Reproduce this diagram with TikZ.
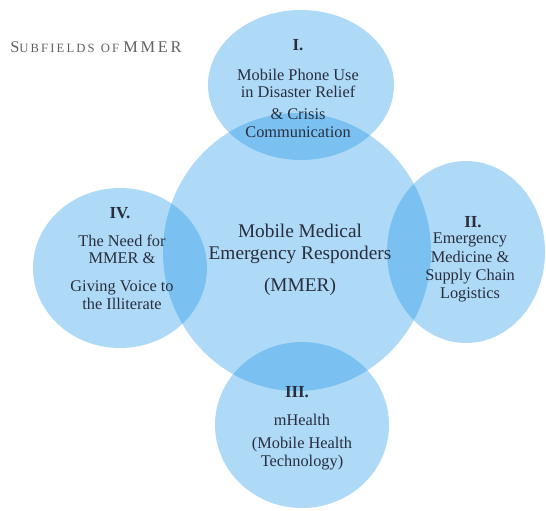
\documentclass[tikz,border=0pt]{standalone}
\usepackage{fontspec}
\setmainfont{Liberation Serif}
\usetikzlibrary{calc}
\definecolor{bubble}{RGB}{30,150,232}
\definecolor{inkblue}{RGB}{40,46,62}
\tikzset{
	bub/.style={fill=bubble, fill opacity=0.36},
	lbl/.style={text=inkblue, align=center, inner sep=0pt, font=\fontsize{9.3}{9.9}\selectfont},
	head/.style={lbl, font=\fontsize{9.6}{10}\selectfont\bfseries}
}

\begin{document}
\begin{tikzpicture}[x=0.02cm, y=-0.02cm]
		%%%%% START %%%%%
		\useasboundingbox (0, 0) rectangle (546, 510);
		
		% the five bubbles
		\fill[bub] (297, 252) ellipse (134 and 139);
		\fill[bub] (301, 85) ellipse (93 and 75);
		\fill[bub] (466, 252) ellipse (79 and 91);
		\fill[bub] (302, 425) ellipse (87 and 83);
		\fill[bub] (120, 268) ellipse (87 and 80);
		
		\node[anchor=west, text=black!62, inner sep=0pt, font=\fontsize{9.3}{10}\selectfont] (title) at (10, 47)
			{S{\fontsize{7.2}{8}\selectfont U\,B\,F\,I\,E\,L\,D\,S\ \ O\,F}\ M\,M\,E\,R};
		
		% centre
		\node[lbl, font=\fontsize{11}{12.5}\selectfont] (mmer) at (300, 244) {Mobile Medical\\Emergency Responders};
		\node[lbl, font=\fontsize{11}{12.5}\selectfont] (mmerabbr) at (300, 287) {(MMER)};
		
		% I.
		\node[head] (one) at (298, 45) {I.};
		\node[lbl] (phone) at (298, 83.5) {Mobile Phone Use\\in Disaster Relief};
		\node[lbl] (crisis) at (298, 123) {\& Crisis\\Communication};
		
		% II.
		\node[head] (two) at (473, 222) {II.};
		\node[lbl, font=\fontsize{9.3}{10.3}\selectfont] (logist) at (470, 267.5) {Emergency\\Medicine \&\\Supply Chain\\Logistics};
		
		% III.
		\node[head] (three) at (297, 392) {III.};
		\node[lbl] (mhealth) at (302, 420) {mHealth};
		\node[lbl] (mobhealth) at (302, 453.5) {(Mobile Health\\Technology)};
		
		% IV.
		\node[head] (four) at (120, 213) {IV.};
		\node[lbl] (need) at (122, 249.5) {The Need for\\MMER \&};
		\node[lbl] (voice) at (122, 295) {Giving Voice to\\the Illiterate};
		
		%%%%% END %%%%%
	\end{tikzpicture}
\end{document}
